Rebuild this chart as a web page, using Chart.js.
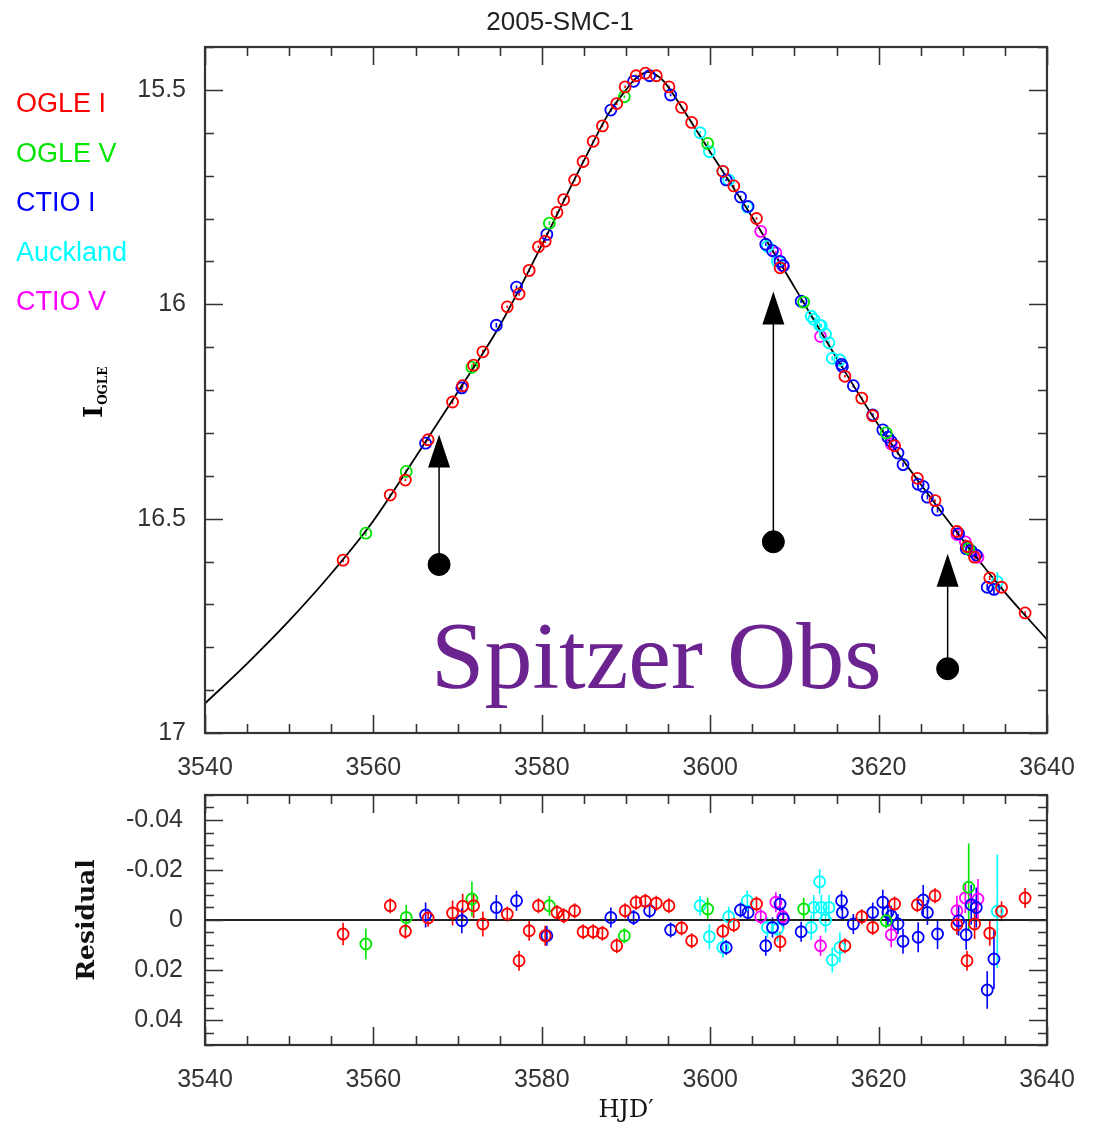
<!DOCTYPE html>
<html>
<head>
<meta charset="utf-8">
<title>2005-SMC-1</title>
<script src="https://cdn.jsdelivr.net/npm/chart.js@4.4.1/dist/chart.umd.min.js"></script>
<style>
  body { margin: 0; background: #fff; width: 1098px; height: 1125px; position: relative; overflow: hidden; }
  #lightCurve { position: absolute; left: 0; top: 0; }
  #residuals { position: absolute; left: 0; top: 780px; }
</style>
</head>
<body>
<canvas id="lightCurve" width="1098" height="780"></canvas>
<canvas id="residuals" width="1098" height="345"></canvas>
<script>
// axis ticks
const hjdTicks = [3540, 3560, 3580, 3600, 3620, 3640];
const magTicks = [15.5, 16, 16.5, 17];
const resTicks = [-0.04, -0.02, 0, 0.02, 0.04];

const seriesNames = ['OGLE I', 'OGLE V', 'CTIO I', 'Auckland', 'CTIO V'];
const seriesColors = ['#ff0000', '#00e600', '#0000ff', '#00ffff', '#ff00ff'];

// OGLE I
const ogleIHjd = [3556.4, 3562.0, 3563.8, 3566.5, 3569.4, 3570.6, 3571.9, 3573.0, 3575.9, 3577.3, 3578.5,
  3579.6, 3580.4, 3581.8, 3582.6, 3583.9, 3584.9, 3586.1, 3587.2, 3588.9, 3589.9, 3591.2, 3592.3, 3593.6,
  3595.1, 3596.6, 3597.8, 3601.5, 3602.8, 3605.5, 3608.3, 3616.0, 3618.0, 3619.3, 3621.9, 3624.6, 3626.7,
  3629.3, 3630.5, 3631.4, 3633.2, 3634.6, 3637.4];
const ogleIMag = [16.597, 16.445, 16.41, 16.316, 16.228, 16.19, 16.142, 16.111, 16.006, 15.976, 15.921,
  15.866, 15.853, 15.786, 15.756, 15.71, 15.667, 15.62, 15.584, 15.532, 15.493, 15.467, 15.461, 15.467,
  15.493, 15.541, 15.576, 15.69, 15.724, 15.80, 15.915, 16.168, 16.219, 16.26, 16.33, 16.406, 16.458,
  16.53, 16.565, 16.59, 16.638, 16.66, 16.72];
const ogleIRes = [0.0056, -0.0057, 0.0045, -0.0008, -0.0028, -0.0055, -0.0057, 0.0016, -0.0024, 0.0163, 0.0043,
  -0.0057, 0.0063, -0.003, -0.0017, -0.0037, 0.0047, 0.0047, 0.0053, 0.0103, -0.0037, -0.007, -0.0075, -0.0067,
  -0.0057, 0.0032, 0.0083, 0.0045, 0.0019, -0.0064, 0.0087, 0.0103, -0.0013, 0.003, -0.0064, -0.0061, -0.0097,
  0.0019, 0.0163, 0.0016, 0.0053, -0.0035, -0.0088];
const ogleIErr = [0.0045, 0.003, 0.003, 0.0035, 0.005, 0.005, 0.005, 0.005, 0.003, 0.004, 0.004,
  0.003, 0.004, 0.003, 0.003, 0.003, 0.003, 0.003, 0.003, 0.003, 0.003, 0.003, 0.003, 0.003,
  0.003, 0.003, 0.003, 0.003, 0.003, 0.003, 0.004, 0.003, 0.003, 0.003, 0.003, 0.003, 0.003,
  0.004, 0.004, 0.006, 0.005, 0.004, 0.004];

// OGLE V
const ogleVHjd = [3559.1, 3563.9, 3571.7, 3580.9, 3589.8, 3599.7, 3611.1, 3620.9, 3630.7];
const ogleVMag = [16.534, 16.39, 16.147, 15.811, 15.516, 15.625, 15.995, 16.30, 16.57];
const ogleVRes = [0.0096, -0.001, -0.0084, -0.0057, 0.0063, -0.0044, -0.0044, 0.0003, -0.0131];
const ogleVErr = [0.0062, 0.005, 0.007, 0.004, 0.003, 0.0045, 0.0045, 0.003, 0.0175];

// CTIO I
const ctioIHjd = [3566.2, 3570.5, 3574.6, 3577.0, 3580.6, 3588.2, 3590.9, 3592.8, 3595.3, 3601.9, 3603.6,
  3604.5, 3606.6, 3607.4, 3608.3, 3608.7, 3610.8, 3615.6, 3615.7, 3617.0, 3619.3, 3620.5, 3621.1, 3621.5,
  3622.3, 3622.9, 3624.7, 3625.3, 3625.8, 3627.0, 3629.5, 3630.4, 3631.0, 3631.6, 3632.9, 3633.7];
const ctioIMag = [16.324, 16.195, 16.049, 15.96, 15.837, 15.547, 15.48, 15.467, 15.512, 15.71, 15.75,
  15.772, 15.86, 15.875, 15.90, 15.91, 15.993, 16.14, 16.145, 16.19, 16.258, 16.293, 16.31, 16.32,
  16.347, 16.374, 16.42, 16.425, 16.45, 16.48, 16.535, 16.57, 16.575, 16.585, 16.66, 16.665];
const ctioIRes = [-0.002, 0.0003, -0.005, -0.0077, 0.0063, -0.001, -0.001, -0.0037, 0.004, 0.011, -0.004,
  -0.003, 0.0103, 0.003, -0.0064, -0.0004, 0.0047, -0.0077, -0.003, 0.0016, -0.003, -0.0071, -0.003, -0.0017,
  0.0016, 0.0085, 0.0069, -0.008, -0.003, 0.0056, 0.0003, 0.0059, -0.0061, -0.005, 0.028, 0.0156];
const ctioIErr = [0.005, 0.005, 0.005, 0.004, 0.004, 0.004, 0.003, 0.003, 0.003, 0.003, 0.003,
  0.003, 0.004, 0.004, 0.004, 0.004, 0.004, 0.004, 0.003, 0.004, 0.004, 0.005, 0.005, 0.004,
  0.004, 0.005, 0.006, 0.006, 0.005, 0.006, 0.006, 0.006, 0.008, 0.008, 0.0075, 0.012];

// Auckland
const aucklandHjd = [3598.8, 3599.9, 3601.5, 3602.2, 3604.4, 3606.8, 3608.0, 3612.0, 3612.3, 3613.0, 3613.2,
  3613.7, 3614.1, 3614.5, 3615.4, 3634.1];
const aucklandMag = [15.60, 15.644, 15.69, 15.71, 15.773, 15.865, 15.90, 16.028, 16.035, 16.049, 16.05,
  16.07, 16.09, 16.126, 16.13, 16.647];
const aucklandRes = [-0.0057, 0.0067, 0.011, -0.0013, -0.0077, 0.003, 0.0036, 0.003, -0.005, -0.0153, -0.005,
  0.0, -0.005, 0.016, 0.011, -0.0035];
const aucklandErr = [0.004, 0.005, 0.004, 0.004, 0.004, 0.004, 0.005, 0.005, 0.005, 0.005, 0.005,
  0.005, 0.005, 0.005, 0.006, 0.0227];

// CTIO V
const ctioVHjd = [3606.0, 3607.8, 3608.6, 3613.1, 3621.5, 3629.3, 3630.3, 3631.8];
const ctioVMag = [15.83, 15.88, 15.91, 16.075, 16.326, 16.537, 16.554, 16.59];
const ctioVRes = [-0.0013, -0.0071, -0.0013, 0.0103, 0.0059, -0.0037, -0.0088, -0.0084];
const ctioVErr = [0.003, 0.004, 0.004, 0.004, 0.005, 0.006, 0.006, 0.008];

// model light curve
const modelHjd = [3540, 3545, 3550, 3555, 3560, 3565, 3570, 3575, 3580, 3585, 3588, 3590, 3591, 3592,
  3592.6, 3593.5, 3594.5, 3596, 3598, 3600, 3605, 3610, 3615, 3620, 3625, 3630, 3635, 3640];
const modelMag = [16.931, 16.838, 16.738, 16.628, 16.505, 16.357, 16.205, 16.05, 15.862, 15.665, 15.553, 15.50, 15.476, 15.462,
  15.458, 15.464, 15.48, 15.522, 15.583, 15.645, 15.797, 15.96, 16.125, 16.282, 16.42, 16.55, 16.672, 16.782];

// Spitzer observation markers (dot -> arrow tip)
const spitzerHjd = [3567.8, 3607.5, 3628.2];
const spitzerDotMag = [16.607, 16.554, 16.85];
const spitzerTipMag = [16.304, 15.97, 16.582];

const hjdList = [ogleIHjd, ogleVHjd, ctioIHjd, aucklandHjd, ctioVHjd];
const magList = [ogleIMag, ogleVMag, ctioIMag, aucklandMag, ctioVMag];
const resList = [ogleIRes, ogleVRes, ctioIRes, aucklandRes, ctioVRes];
const errList = [ogleIErr, ogleVErr, ctioIErr, aucklandErr, ctioVErr];

function pts(xs, ys) {
  return xs.map((x, i) => ({ x: x, y: ys[i] }));
}

const tickFont = { family: 'Liberation Sans, Arial, sans-serif', size: 25 };
const frameColor = '#333';

// box frame with inward major/minor ticks on all four sides
const frameTicks = {
  id: 'frameTicks',
  afterDraw(chart, args, opts) {
    const { ctx, chartArea: a } = chart;
    const x = chart.scales.x, y = chart.scales.y;
    const isMajor = (v, list) => list.some(t => Math.abs(t - v) < 1e-7);
    ctx.save();
    ctx.strokeStyle = frameColor;
    ctx.lineWidth = 1.6;
    ctx.beginPath();
    for (let v = x.min; v <= x.max + 1e-9; v += opts.xMinor) {
      const px = Math.round(x.getPixelForValue(v)) + 0.5;
      const len = isMajor(v, hjdTicks) ? 18 : 9;
      ctx.moveTo(px, a.bottom); ctx.lineTo(px, a.bottom - len);
      ctx.moveTo(px, a.top); ctx.lineTo(px, a.top + len);
    }
    const yStart = Math.ceil(Math.min(y.min, y.max) / opts.yMinor - 1e-6) * opts.yMinor;
    for (let k = 0; ; k++) {
      const v = yStart + k * opts.yMinor;
      if (v > Math.max(y.min, y.max) + 1e-9) break;
      const py = Math.round(y.getPixelForValue(v)) + 0.5;
      const len = isMajor(v, opts.yMajor) ? 18 : 9;
      ctx.moveTo(a.left, py); ctx.lineTo(a.left + len, py);
      ctx.moveTo(a.right, py); ctx.lineTo(a.right - len, py);
    }
    ctx.stroke();
    ctx.lineWidth = 2.2;
    ctx.strokeRect(a.left, a.top, a.right - a.left, a.bottom - a.top);
    ctx.restore();
  }
};

// vertical error bars taken from dataset.errs
const errorBars = {
  id: 'errorBars',
  beforeDatasetsDraw(chart) {
    const { ctx } = chart;
    const x = chart.scales.x, y = chart.scales.y;
    ctx.save();
    ctx.lineWidth = 1.6;
    chart.data.datasets.forEach(ds => {
      if (!ds.errs) return;
      ctx.strokeStyle = ds.borderColor;
      ctx.beginPath();
      ds.data.forEach((p, i) => {
        const px = x.getPixelForValue(p.x);
        ctx.moveTo(px, y.getPixelForValue(p.y - ds.errs[i]));
        ctx.lineTo(px, y.getPixelForValue(p.y + ds.errs[i]));
      });
      ctx.stroke();
    });
    ctx.restore();
  }
};

// title, legend text, y label, Spitzer arrows and caption
const lightCurveExtras = {
  id: 'lightCurveExtras',
  afterDraw(chart) {
    const { ctx } = chart;
    const x = chart.scales.x, y = chart.scales.y;
    ctx.save();

    ctx.fillStyle = '#222';
    ctx.font = '26px Liberation Sans, Arial, sans-serif';
    ctx.textAlign = 'center';
    ctx.textBaseline = 'alphabetic';
    ctx.fillText('2005-SMC-1', 560, 30);

    ctx.textAlign = 'left';
    ctx.font = '27px Liberation Sans, Arial, sans-serif';
    seriesNames.forEach((name, i) => {
      ctx.fillStyle = seriesColors[i];
      ctx.fillText(name, 16, 112 + i * 49.5);
    });

    // I with OGLE subscript, rotated
    ctx.save();
    ctx.translate(102, 418);
    ctx.rotate(-Math.PI / 2);
    ctx.fillStyle = '#000';
    ctx.font = 'bold 26px DejaVu Serif, serif';
    ctx.fillText('I', 0, 0);
    const w = ctx.measureText('I').width;
    ctx.font = 'bold 12px DejaVu Serif, serif';
    ctx.fillText('OGLE', w + 1, 5);
    ctx.restore();

    // arrows
    ctx.fillStyle = '#000';
    ctx.strokeStyle = '#000';
    ctx.lineWidth = 1.5;
    spitzerHjd.forEach((h, i) => {
      const px = x.getPixelForValue(h);
      const p0 = y.getPixelForValue(spitzerDotMag[i]);
      const p1 = y.getPixelForValue(spitzerTipMag[i]);
      ctx.beginPath();
      ctx.moveTo(px, p0);
      ctx.lineTo(px, p1 + 30);
      ctx.stroke();
      ctx.beginPath();
      ctx.moveTo(px, p1);
      ctx.lineTo(px - 11, p1 + 33);
      ctx.lineTo(px + 11, p1 + 33);
      ctx.closePath();
      ctx.fill();
    });

    ctx.fillStyle = '#6a238f';
    ctx.font = '96px Liberation Serif, Times New Roman, serif';
    ctx.fillText('Spitzer Obs', 431, 688);
    ctx.restore();
  }
};

const noEdgePadding = s => {
  s.paddingTop = 0;
  s.paddingBottom = 0;
};

const topDatasets = seriesNames.map((name, i) => ({
  label: name,
  data: pts(hjdList[i], magList[i]),
  errs: errList[i],
  borderColor: seriesColors[i],
  backgroundColor: 'rgba(0,0,0,0)',
  borderWidth: 1.8,
  pointRadius: 5.5,
  order: 1
}));
topDatasets.push({
  label: 'Spitzer',
  data: pts(spitzerHjd, spitzerDotMag),
  backgroundColor: '#000',
  borderColor: '#000',
  pointRadius: 11,
  order: 0
});
topDatasets.push({
  type: 'line',
  label: 'model',
  data: pts(modelHjd, modelMag),
  borderColor: '#000',
  borderWidth: 1.8,
  pointRadius: 0,
  cubicInterpolationMode: 'monotone',
  order: 10
});

const lightCurveChart = new Chart(document.getElementById('lightCurve'), {
  type: 'scatter',
  data: { datasets: topDatasets },
  options: {
    responsive: false,
    animation: false,
    layout: { padding: { top: 47, right: 51, left: 0, bottom: 0 } },
    plugins: { legend: { display: false }, tooltip: { enabled: false }, frameTicks: { xMinor: 5, yMinor: 0.1, yMajor: magTicks } },
    scales: {
      x: {
        type: 'linear', min: 3540, max: 3640,
        afterFit: s => { s.height = 47; },
        afterBuildTicks: s => { s.ticks = hjdTicks.map(v => ({ value: v })); },
        ticks: { font: tickFont, color: '#333', padding: 20, maxRotation: 0, autoSkip: false, callback: v => String(v) },
        grid: { display: false, drawTicks: false },
        border: { display: false }
      },
      y: {
        type: 'linear', min: 15.4, max: 17, reverse: true,
        afterFit: s => { s.width = 205; noEdgePadding(s); },
        afterBuildTicks: s => { s.ticks = magTicks.map(v => ({ value: v })); },
        ticks: { font: tickFont, color: '#333', padding: 19, autoSkip: false, callback: v => String(v) },
        grid: { display: false, drawTicks: false },
        border: { display: false }
      }
    }
  },
  plugins: [errorBars, frameTicks, lightCurveExtras]
});

const resDatasets = seriesNames.map((name, i) => ({
  label: name,
  data: pts(hjdList[i], resList[i]),
  errs: errList[i],
  borderColor: seriesColors[i],
  backgroundColor: 'rgba(0,0,0,0)',
  borderWidth: 1.8,
  pointRadius: 5.5,
  order: 1
}));
resDatasets.push({
  type: 'line',
  label: 'zero',
  data: [{ x: 3540, y: 0 }, { x: 3640, y: 0 }],
  borderColor: '#222',
  borderWidth: 1.8,
  pointRadius: 0,
  order: 10
});

const residualChart = new Chart(document.getElementById('residuals'), {
  type: 'scatter',
  data: { datasets: resDatasets },
  options: {
    responsive: false,
    animation: false,
    layout: { padding: { top: 15, right: 51, left: 0, bottom: 0 } },
    plugins: { legend: { display: false }, tooltip: { enabled: false }, frameTicks: { xMinor: 5, yMinor: 0.005, yMajor: resTicks } },
    scales: {
      x: {
        type: 'linear', min: 3540, max: 3640,
        afterFit: s => { s.height = 80; },
        afterBuildTicks: s => { s.ticks = hjdTicks.map(v => ({ value: v })); },
        ticks: { font: tickFont, color: '#333', padding: 20, maxRotation: 0, autoSkip: false, callback: v => String(v) },
        grid: { display: false, drawTicks: false },
        border: { display: false },
        title: { display: true, text: "HJD\u2032", color: '#111', font: { family: 'DejaVu Serif, serif', size: 24, lineHeight: 1 }, padding: { top: 0, bottom: 2 } }
      },
      y: {
        type: 'linear', min: -0.05, max: 0.05, reverse: true,
        afterFit: s => { s.width = 205; noEdgePadding(s); },
        afterBuildTicks: s => { s.ticks = resTicks.map(v => ({ value: v })); },
        ticks: { font: tickFont, color: '#333', padding: 22, autoSkip: false, callback: v => String(v) },
        grid: { display: false, drawTicks: false },
        border: { display: false },
        title: { display: true, text: 'Residual', color: '#111', font: { family: 'DejaVu Serif, serif', size: 25, weight: 'bold', lineHeight: 1.2 }, padding: { top: 72, bottom: 0 } }
      }
    }
  },
  plugins: [errorBars, frameTicks]
});
</script>
</body>
</html>
